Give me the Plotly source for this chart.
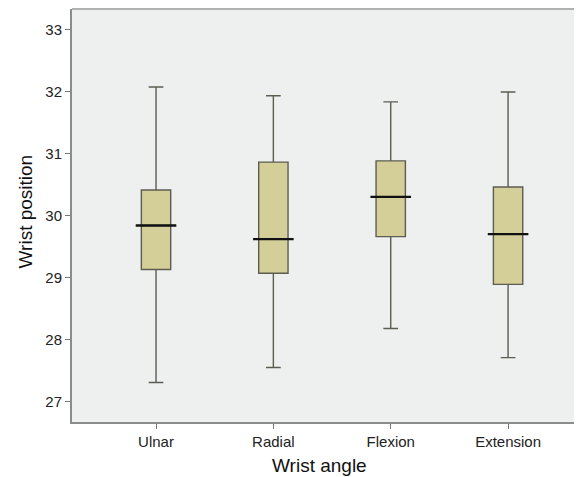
import plotly.graph_objects as go

categories = ["Ulnar", "Radial", "Flexion", "Extension"]
upper = [32.07, 31.93, 31.83, 31.99]
q3 = [30.41, 30.86, 30.88, 30.46]
median = [29.84, 29.62, 30.30, 29.70]
q1 = [29.13, 29.07, 29.66, 28.89]
lower = [27.31, 27.55, 28.18, 27.71]
y_ticks = [27, 28, 29, 30, 31, 32, 33]

FONT = "Liberation Sans, Arial, Helvetica, sans-serif"

# page has an 8px body margin; figure occupies (8,8) onward
W, H = 574, 469
L, T, B = 64, 1, 55
PW, PH = W - L, H - T - B

fig = go.Figure()
fig.add_trace(go.Box(
    x=categories, q1=q1, median=median, q3=q3,
    lowerfence=lower, upperfence=upper,
    fillcolor="#d4cf98",
    line=dict(color="#5c5c52", width=1.4),
    width=0.25, whiskerwidth=0.5,
    boxpoints=False, hoverinfo="skip", showlegend=False,
))
# thick black median lines
fig.add_trace(go.Scatter(
    x=categories, y=median, mode="markers",
    marker=dict(symbol="line-ew", size=29, line=dict(color="#111111", width=2.4)),
    hoverinfo="skip", showlegend=False,
))

fig.update_layout(
    width=W, height=H,
    margin=dict(l=L, r=0, t=T, b=B),
    paper_bgcolor="white",
    plot_bgcolor="#eef0ef",
    font=dict(family=FONT, size=15, color="#222222"),
    xaxis=dict(
        type="category", range=[-0.716, 3.63],
        showgrid=False, zeroline=False,
        showline=True, linecolor="#8c8c8c", linewidth=2,
        ticks="outside", ticklen=5, tickcolor="#777777", tickwidth=1,
        tickfont=dict(size=15, color="#222222"),
    ),
    yaxis=dict(
        range=[26.673, 33.327], tickvals=y_ticks,
        showgrid=False, zeroline=False,
        showline=True, linecolor="#8c8c8c", linewidth=2,
        ticks="outside", ticklen=5, tickcolor="#777777", tickwidth=1,
        tickfont=dict(size=15, color="#222222"),
    ),
    shapes=[dict(type="line", xref="paper", yref="paper", x0=0, x1=1, y0=1, y1=1,
                 line=dict(color="#b0b0b0", width=2))],
    annotations=[
        dict(text="Wrist angle", xref="paper", yref="paper", x=(311 - L) / PW, y=0,
             yshift=-43, xanchor="center", yanchor="middle", showarrow=False,
             font=dict(size=19, color="#111111")),
        dict(text="Wrist position", xref="paper", yref="paper", x=0, xshift=-47,
             y=(414 - 203.5) / PH, xanchor="center", yanchor="middle", textangle=-90,
             showarrow=False, font=dict(size=19, color="#111111")),
    ],
)

fig.write_html("out.html")
